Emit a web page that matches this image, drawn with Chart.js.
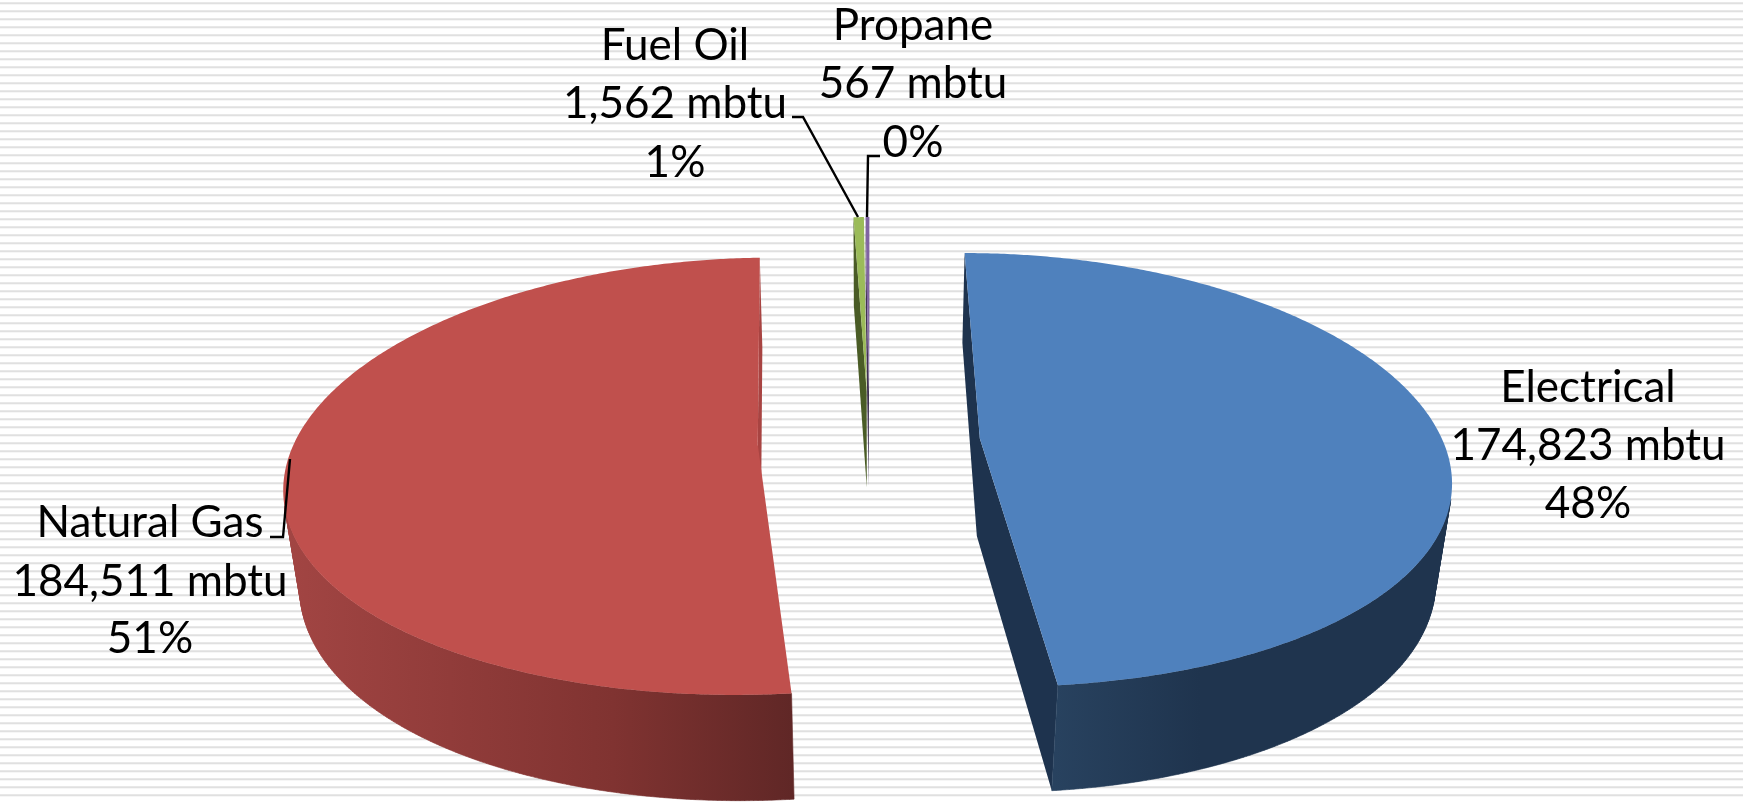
<!DOCTYPE html>
<html>
<head>
<meta charset="utf-8">
<title>Energy use by fuel</title>
<script src="https://cdn.jsdelivr.net/npm/chart.js@4"></script>
<style>
html,body{margin:0;padding:0;width:1743px;height:802px;overflow:hidden;
background:repeating-linear-gradient(to bottom,#fff 0,#fff 2px,#e8e8e8 2px,#e8e8e8 3px,#e0e0e0 3px,#e0e0e0 4px,#f6f6f6 4px,#f6f6f6 5px,#fff 5px,#fff 8px);}
canvas{display:block}
</style>
</head>
<body>
<canvas id="c" width="1743" height="802"></canvas>
<script>
// ---- data ----
const categories = ['Electrical', 'Natural Gas', 'Fuel Oil', 'Propane'];
const mbtuValues = [174823, 184511, 1562, 567];
const valueLabels = ['174,823 mbtu', '184,511 mbtu', '1,562 mbtu', '567 mbtu'];
const percentLabels = ['48%', '51%', '1%', '0%'];

// ---- styles ----
const topColors = ['#4f81bd', '#c0504d', '#9bbb59', '#8064a2'];
const radialColors = ['#1e334e', '#a84442', '#4a5c26', '#3f3150'];
const wallStops = [
  [[1055, '#28425f'], [1200, '#1f344e']],
  [[287, '#a24543'], [613, '#803331'], [793, '#602726']],
  [[850, '#4f6228'], [870, '#4f6228']],
  [[850, '#403151'], [870, '#403151']]
];
// ---- camera used to lay the pie's arcs on a tilted plane ----
const view = { dx: -2.5, dy: 40, sx: 1.293, sy: 0.595, persp: 0.145, perspX: 0.168, drop: 0.028, depth: 0.28 };
const labelFont = '44px Lato';
const labelBoxes = [
  { x: 1588, y: [402, 460, 518] },
  { x: 150, y: [537, 596, 653] },
  { x: 675, y: [60, 118, 177] },
  { x: 913, y: [40, 98, 157] }
];
const leaders = [
  null,
  [[270, 537], [283, 537], [290, 459]],
  [[792, 117], [803, 117], [858, 217]],
  [[880, 156], [868, 156], [867, 217]]
];

const pie3d = {
  id: 'pie3d',
  beforeDatasetDraw(chart) {
    const ctx = chart.ctx;
    const arcs = chart.getDatasetMeta(0).data;
    arcs.forEach((arc, i) => {
      const p = arc.getProps(['x', 'y', 'startAngle', 'endAngle', 'outerRadius'], true);
      const r = p.outerRadius;
      const R = r * view.sx, K = r * view.sy, H = r * view.depth;
      const X0 = p.x + view.dx, Y0 = p.y + view.dy;
      const e = arc.options.offset / r;
      const mid = (p.startAngle + p.endAngle) / 2;
      const ex = e * Math.cos(mid), ey = -e * Math.sin(mid);
      const proj = (wx, wy, low) => {
        const extra = low ? view.drop : 0;
        const w = 1 + view.persp * wy + extra;
        const wX = 1 + view.perspX * wy + extra;
        return { x: X0 + R * wx / wX, y: Y0 + (-K * wy + (low ? H : 0)) / w };
      };
      const world = [[ex, ey]];
      const n = Math.max(4, Math.ceil((p.endAngle - p.startAngle) * 120));
      for (let k = 0; k <= n; k++) {
        const a = p.startAngle + (p.endAngle - p.startAngle) * k / n;
        world.push([ex + Math.cos(a), ey - Math.sin(a)]);
      }
      world.push([ex, ey]);
      const top = world.map(q => proj(q[0], q[1], false));
      const low = world.map(q => proj(q[0], q[1], true));

      const quad = (s) => {
        const A = top[s], B = top[s + 1], C = low[s + 1], D = low[s];
        const pts = [A, B, C, D];
        let area = 0;
        for (let j = 0; j < 4; j++) {
          const u = pts[j], v = pts[(j + 1) % 4];
          area += u.x * v.y - v.x * u.y;
        }
        if (area >= 0) return false;
        ctx.moveTo(A.x, A.y); ctx.lineTo(B.x, B.y); ctx.lineTo(C.x, C.y); ctx.lineTo(D.x, D.y); ctx.closePath();
        return true;
      };
      const last = world.length - 2;
      ctx.save();
      // radial faces
      ctx.beginPath();
      quad(0); quad(last);
      ctx.fillStyle = radialColors[i];
      ctx.fill();
      // rim
      const stops = wallStops[i];
      const x0 = stops[0][0], x1 = stops[stops.length - 1][0];
      const g = ctx.createLinearGradient(x0, 0, x1, 0);
      stops.forEach(st => g.addColorStop((st[0] - x0) / (x1 - x0), st[1]));
      ctx.fillStyle = g; ctx.strokeStyle = g; ctx.lineWidth = 0.6;
      ctx.beginPath();
      for (let s = 1; s < last; s++) quad(s);
      ctx.fill(); ctx.stroke();
      // top face
      ctx.beginPath();
      top.forEach((q, j) => j ? ctx.lineTo(q.x, q.y) : ctx.moveTo(q.x, q.y));
      ctx.closePath();
      ctx.fillStyle = topColors[i];
      ctx.fill();
      ctx.restore();
    });
    return false;
  },
  afterDatasetsDraw(chart) {
    const ctx = chart.ctx;
    ctx.save();
    ctx.strokeStyle = '#000'; ctx.lineWidth = 2.4; ctx.lineJoin = 'miter';
    leaders.forEach(l => {
      if (!l) return;
      ctx.beginPath();
      l.forEach((q, j) => j ? ctx.lineTo(q[0], q[1]) : ctx.moveTo(q[0], q[1]));
      ctx.stroke();
    });
    ctx.fillStyle = '#000'; ctx.font = labelFont; ctx.textAlign = 'center'; ctx.textBaseline = 'alphabetic';
    categories.forEach((name, i) => {
      const b = labelBoxes[i];
      [name, valueLabels[i], percentLabels[i]].forEach((t, j) => ctx.fillText(t, b.x, b.y[j]));
    });
    ctx.restore();
  }
};

new Chart(document.getElementById('c'), {
  type: 'pie',
  data: {
    labels: categories,
    datasets: [{ data: mbtuValues, backgroundColor: topColors, borderWidth: 0, offset: 86 }]
  },
  options: {
    responsive: false,
    animation: false,
    rotation: 0.1,
    layout: { padding: 0 },
    plugins: { legend: { display: false }, tooltip: { enabled: false } }
  },
  plugins: [pie3d]
});
</script>
</body>
</html>
